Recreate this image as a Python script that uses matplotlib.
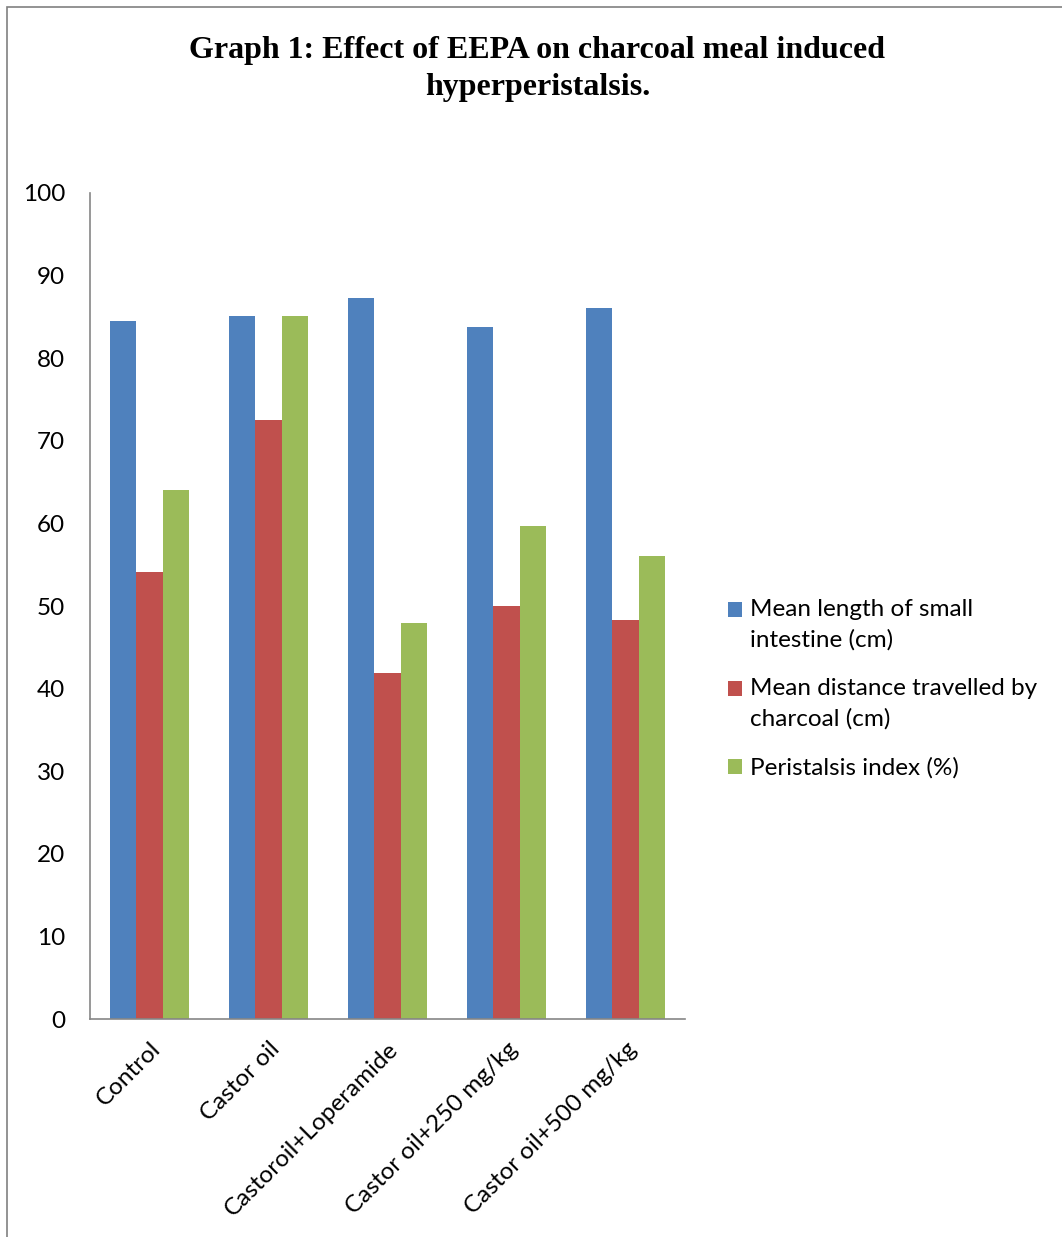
import numpy as np
import matplotlib
matplotlib.use('Agg')
import matplotlib.pyplot as plt
from matplotlib.patches import Rectangle

groups = ['Control', 'Castor oil', 'Castoroil+Loperamide', 'Castor oil+250 mg/kg', 'Castor oil+500 mg/kg']
series_names = ['Mean length of small\nintestine (cm)',
                'Mean distance travelled by\ncharcoal (cm)',
                'Peristalsis index (%)']
mean_length = [84.5, 85.1, 87.3, 83.8, 86.1]
mean_distance = [54.1, 72.5, 41.9, 50.0, 48.3]
peristalsis = [64.0, 85.1, 47.9, 59.7, 56.1]
colors = ['#4F81BD', '#C0504D', '#9BBB59']

plt.rcParams['font.family'] = ['Lato', 'DejaVu Sans']

fig = plt.figure(figsize=(10.62, 12.37), dpi=100)
ax = fig.add_axes([0.0847, 0.1762, 0.5603, 0.6678])

x = np.arange(len(groups))
w = 0.222
for i, vals in enumerate([mean_length, mean_distance, peristalsis]):
    ax.bar(x + (i - 1) * w, vals, w, color=colors[i], label=series_names[i])

ax.set_xlim(-0.5, len(groups) - 0.5)
ax.set_ylim(0, 100)
ax.set_yticks(range(0, 101, 10))
ax.set_xticks(x)
ax.set_xticklabels(groups, rotation=45, ha='right', rotation_mode='anchor')
ax.tick_params(axis='both', length=0, labelsize=17.5, colors='black')
ax.tick_params(axis='y', pad=18)
ax.tick_params(axis='x', pad=14)
for s in ['top', 'right']:
    ax.spines[s].set_visible(False)
for s in ['left', 'bottom']:
    ax.spines[s].set_color('#868686')
    ax.spines[s].set_linewidth(1.2)

# legend sits right of the axes, labels wrapped like the original
leg = fig.legend(loc='center left', bbox_to_anchor=(0.674, 0.443), frameon=False,
                 fontsize=17.5, handlelength=0.58, handleheight=0.58,
                 handletextpad=0.33, labelspacing=1.15, borderpad=0)
for t in leg.get_texts():
    t.set_linespacing(1.49)
# put the square next to the first line of a wrapped label
for h, name in zip(leg.legend_handles, series_names):
    if '\n' in name:
        h.set_y(h.get_y() + 11)

fig.text(0.506, 0.971, 'Graph 1: Effect of EEPA on charcoal meal induced\nhyperperistalsis.',
         ha='center', va='top', family='Liberation Serif', weight='bold',
         fontsize=23, linespacing=1.375)

fig.patches.append(Rectangle((7 / 1062, -0.1), 1.2, 1.1 - 7 / 1237, transform=fig.transFigure,
                             fill=False, edgecolor='#808080', linewidth=1.2))

fig.savefig('out.png', dpi=100)
